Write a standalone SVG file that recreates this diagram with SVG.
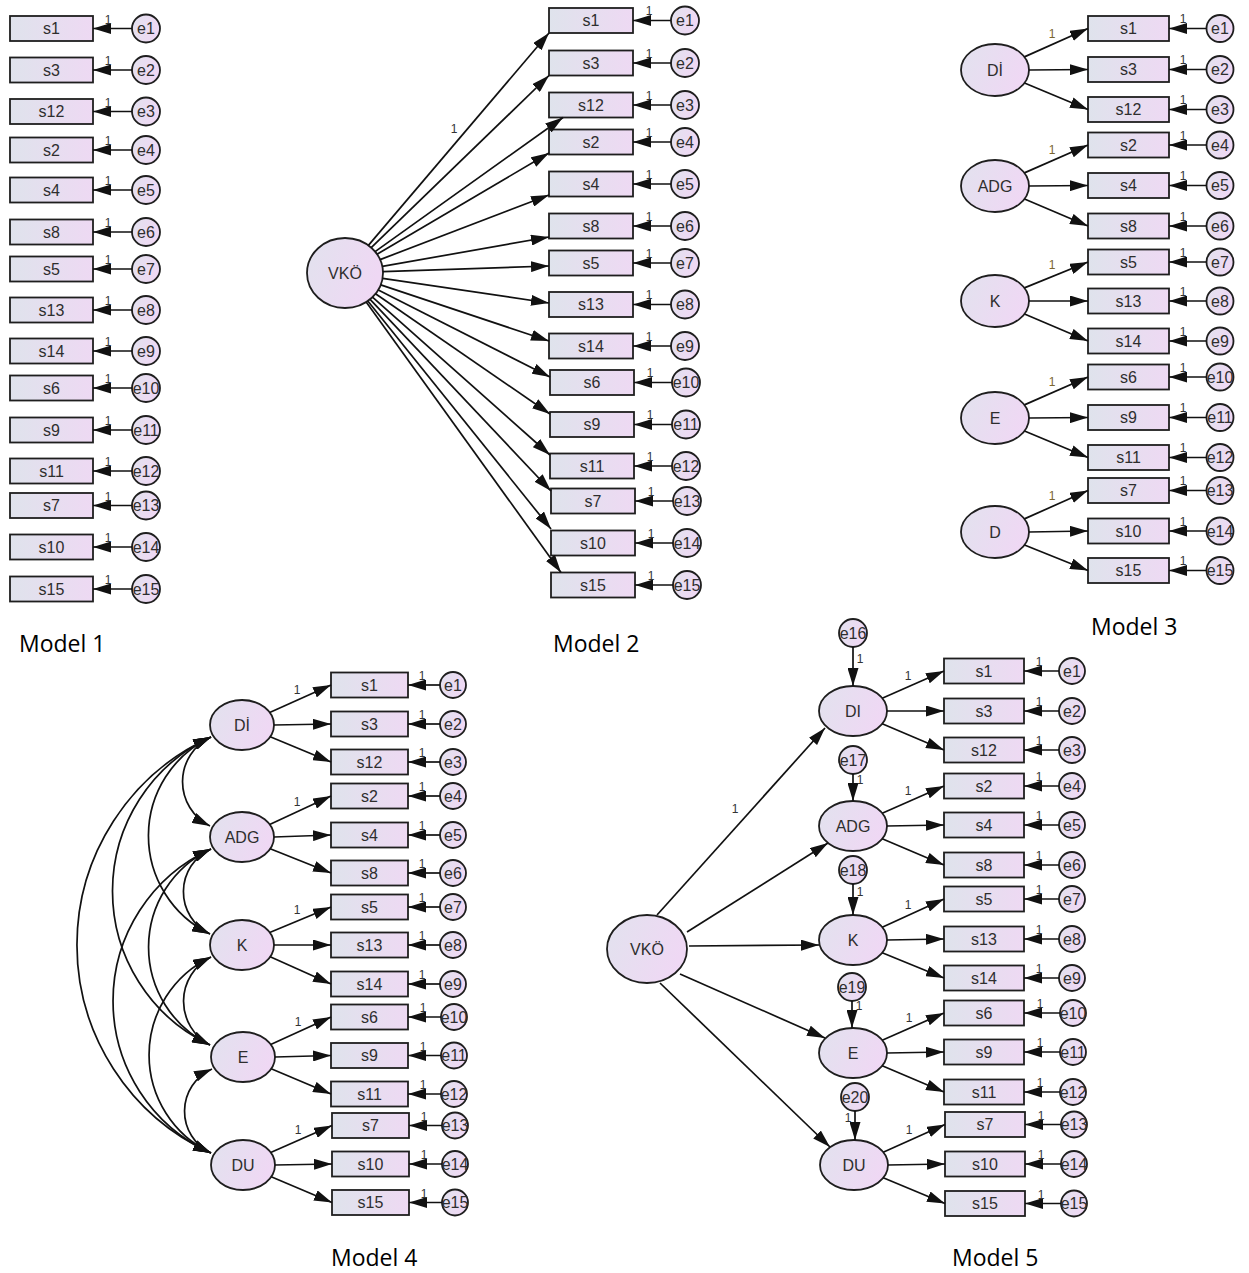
<svg xmlns="http://www.w3.org/2000/svg" width="1249" height="1273" viewBox="0 0 1249 1273">
<defs>
  <linearGradient id="gBox" x1="0" y1="0" x2="1" y2="0">
    <stop offset="0" stop-color="#dfe3ec"/>
    <stop offset="1" stop-color="#eed9f3"/>
  </linearGradient>
  <linearGradient id="gLat" x1="0" y1="0" x2="1" y2="0.3">
    <stop offset="0" stop-color="#e2e2ee"/>
    <stop offset="1" stop-color="#efd8f4"/>
  </linearGradient>
  <marker id="ah" viewBox="0 0 18 11" refX="18" refY="5.5" markerWidth="18" markerHeight="11" markerUnits="userSpaceOnUse" orient="auto-start-reverse">
    <path d="M0,0 L18,5.5 L0,11 z" fill="#111"/>
  </marker>
  <style>
    .box{fill:url(#gBox);stroke:#1e1e1e;stroke-width:1.8}
    .lat{fill:url(#gLat);stroke:#1e1e1e;stroke-width:1.8}
    .t{font-family:"Liberation Sans",Arial,sans-serif;font-size:16px;fill:#2e2e2e;text-anchor:middle}
    .one{font-family:"Liberation Sans",Arial,sans-serif;font-size:12px;fill:#333;text-anchor:middle}
    .one3{font-family:"Liberation Sans",Arial,sans-serif;font-size:12px;fill:#7a6530;text-anchor:middle}
    .cap{font-family:"Open Sans","Liberation Sans",sans-serif;font-size:23px;fill:#000}
    .edges line,.edges path{stroke:#111;stroke-width:1.7;fill:none;marker-end:url(#ah)}
    .edges .cov{marker-start:url(#ah)}
  </style>
</defs>
<rect width="1249" height="1273" fill="#fff"/>

<!-- ===== Model 1 : independent items ===== -->
<g id="model1">
  <g id="m1-s1" transform="translate(10,16)"><rect class="box" width="83" height="25"/><text class="t" x="41.5" y="18">s1</text></g>
  <g id="m1-s3" transform="translate(10,57.5)"><rect class="box" width="83" height="25"/><text class="t" x="41.5" y="18">s3</text></g>
  <g id="m1-s12" transform="translate(10,99)"><rect class="box" width="83" height="25"/><text class="t" x="41.5" y="18">s12</text></g>
  <g id="m1-s2" transform="translate(10,137.5)"><rect class="box" width="83" height="25"/><text class="t" x="41.5" y="18">s2</text></g>
  <g id="m1-s4" transform="translate(10,177.5)"><rect class="box" width="83" height="25"/><text class="t" x="41.5" y="18">s4</text></g>
  <g id="m1-s8" transform="translate(10,219.5)"><rect class="box" width="83" height="25"/><text class="t" x="41.5" y="18">s8</text></g>
  <g id="m1-s5" transform="translate(10,256.5)"><rect class="box" width="83" height="25"/><text class="t" x="41.5" y="18">s5</text></g>
  <g id="m1-s13" transform="translate(10,297.5)"><rect class="box" width="83" height="25"/><text class="t" x="41.5" y="18">s13</text></g>
  <g id="m1-s14" transform="translate(10,338.5)"><rect class="box" width="83" height="25"/><text class="t" x="41.5" y="18">s14</text></g>
  <g id="m1-s6" transform="translate(10,375.5)"><rect class="box" width="83" height="25"/><text class="t" x="41.5" y="18">s6</text></g>
  <g id="m1-s9" transform="translate(10,417.5)"><rect class="box" width="83" height="25"/><text class="t" x="41.5" y="18">s9</text></g>
  <g id="m1-s11" transform="translate(10,458.5)"><rect class="box" width="83" height="25"/><text class="t" x="41.5" y="18">s11</text></g>
  <g id="m1-s7" transform="translate(10,493)"><rect class="box" width="83" height="25"/><text class="t" x="41.5" y="18">s7</text></g>
  <g id="m1-s10" transform="translate(10,534.5)"><rect class="box" width="83" height="25"/><text class="t" x="41.5" y="18">s10</text></g>
  <g id="m1-s15" transform="translate(10,576.5)"><rect class="box" width="83" height="25"/><text class="t" x="41.5" y="18">s15</text></g>

  <g id="m1-e1" transform="translate(146,28.5)"><circle class="lat" r="14"/><text class="t" y="5.5">e1</text></g>
  <g id="m1-e2" transform="translate(146,70)"><circle class="lat" r="14"/><text class="t" y="5.5">e2</text></g>
  <g id="m1-e3" transform="translate(146,111.5)"><circle class="lat" r="14"/><text class="t" y="5.5">e3</text></g>
  <g id="m1-e4" transform="translate(146,150)"><circle class="lat" r="14"/><text class="t" y="5.5">e4</text></g>
  <g id="m1-e5" transform="translate(146,190)"><circle class="lat" r="14"/><text class="t" y="5.5">e5</text></g>
  <g id="m1-e6" transform="translate(146,232)"><circle class="lat" r="14"/><text class="t" y="5.5">e6</text></g>
  <g id="m1-e7" transform="translate(146,269)"><circle class="lat" r="14"/><text class="t" y="5.5">e7</text></g>
  <g id="m1-e8" transform="translate(146,310)"><circle class="lat" r="14"/><text class="t" y="5.5">e8</text></g>
  <g id="m1-e9" transform="translate(146,351)"><circle class="lat" r="14"/><text class="t" y="5.5">e9</text></g>
  <g id="m1-e10" transform="translate(146,388)"><circle class="lat" r="14"/><text class="t" y="5.5">e10</text></g>
  <g id="m1-e11" transform="translate(146,430)"><circle class="lat" r="14"/><text class="t" y="5.5">e11</text></g>
  <g id="m1-e12" transform="translate(146,471)"><circle class="lat" r="14"/><text class="t" y="5.5">e12</text></g>
  <g id="m1-e13" transform="translate(146,505.5)"><circle class="lat" r="14"/><text class="t" y="5.5">e13</text></g>
  <g id="m1-e14" transform="translate(146,547)"><circle class="lat" r="14"/><text class="t" y="5.5">e14</text></g>
  <g id="m1-e15" transform="translate(146,589)"><circle class="lat" r="14"/><text class="t" y="5.5">e15</text></g>
</g>
<g id="model1-edges" class="edges">
  <line x1="132" y1="28.5" x2="93" y2="28.5"/><line x1="132" y1="70" x2="93" y2="70"/>
  <line x1="132" y1="111.5" x2="93" y2="111.5"/><line x1="132" y1="150" x2="93" y2="150"/>
  <line x1="132" y1="190" x2="93" y2="190"/><line x1="132" y1="232" x2="93" y2="232"/>
  <line x1="132" y1="269" x2="93" y2="269"/><line x1="132" y1="310" x2="93" y2="310"/>
  <line x1="132" y1="351" x2="93" y2="351"/><line x1="132" y1="388" x2="93" y2="388"/>
  <line x1="132" y1="430" x2="93" y2="430"/><line x1="132" y1="471" x2="93" y2="471"/>
  <line x1="132" y1="505.5" x2="93" y2="505.5"/><line x1="132" y1="547" x2="93" y2="547"/>
  <line x1="132" y1="589" x2="93" y2="589"/>
  <text class="one" x="108" y="23.5">1</text><text class="one" x="108" y="65">1</text>
  <text class="one" x="108" y="106.5">1</text><text class="one" x="108" y="145">1</text>
  <text class="one" x="108" y="185">1</text><text class="one" x="108" y="227">1</text>
  <text class="one" x="108" y="264">1</text><text class="one" x="108" y="305">1</text>
  <text class="one" x="108" y="346">1</text><text class="one" x="108" y="383">1</text>
  <text class="one" x="108" y="425">1</text><text class="one" x="108" y="466">1</text>
  <text class="one" x="108" y="500.5">1</text><text class="one" x="108" y="542">1</text>
  <text class="one" x="108" y="584">1</text>
</g>
<text class="cap" x="19" y="652">Model 1</text>

<!-- ===== Model 2 : single factor ===== -->
<g id="model2">
  <g id="m2-VKO" transform="translate(345,273)"><ellipse class="lat" rx="38" ry="35"/><text class="t" y="6">VKÖ</text></g>
  <g id="m2-s1" transform="translate(549,8)"><rect class="box" width="84" height="25"/><text class="t" x="42" y="18">s1</text></g>
  <g id="m2-s3" transform="translate(549,50.5)"><rect class="box" width="84" height="25"/><text class="t" x="42" y="18">s3</text></g>
  <g id="m2-s12" transform="translate(549,92.5)"><rect class="box" width="84" height="25"/><text class="t" x="42" y="18">s12</text></g>
  <g id="m2-s2" transform="translate(549,129.5)"><rect class="box" width="84" height="25"/><text class="t" x="42" y="18">s2</text></g>
  <g id="m2-s4" transform="translate(549,171.5)"><rect class="box" width="84" height="25"/><text class="t" x="42" y="18">s4</text></g>
  <g id="m2-s8" transform="translate(549,213.5)"><rect class="box" width="84" height="25"/><text class="t" x="42" y="18">s8</text></g>
  <g id="m2-s5" transform="translate(549,250.5)"><rect class="box" width="84" height="25"/><text class="t" x="42" y="18">s5</text></g>
  <g id="m2-s13" transform="translate(549,292)"><rect class="box" width="84" height="25"/><text class="t" x="42" y="18">s13</text></g>
  <g id="m2-s14" transform="translate(549,333.5)"><rect class="box" width="84" height="25"/><text class="t" x="42" y="18">s14</text></g>
  <g id="m2-s6" transform="translate(550,370)"><rect class="box" width="84" height="25"/><text class="t" x="42" y="18">s6</text></g>
  <g id="m2-s9" transform="translate(550,412)"><rect class="box" width="84" height="25"/><text class="t" x="42" y="18">s9</text></g>
  <g id="m2-s11" transform="translate(550,453.5)"><rect class="box" width="84" height="25"/><text class="t" x="42" y="18">s11</text></g>
  <g id="m2-s7" transform="translate(551,488.5)"><rect class="box" width="84" height="25"/><text class="t" x="42" y="18">s7</text></g>
  <g id="m2-s10" transform="translate(551,530.5)"><rect class="box" width="84" height="25"/><text class="t" x="42" y="18">s10</text></g>
  <g id="m2-s15" transform="translate(551,572.5)"><rect class="box" width="84" height="25"/><text class="t" x="42" y="18">s15</text></g>

  <g id="m2-e1" transform="translate(685,20.5)"><circle class="lat" r="14"/><text class="t" y="5.5">e1</text></g>
  <g id="m2-e2" transform="translate(685,63)"><circle class="lat" r="14"/><text class="t" y="5.5">e2</text></g>
  <g id="m2-e3" transform="translate(685,105)"><circle class="lat" r="14"/><text class="t" y="5.5">e3</text></g>
  <g id="m2-e4" transform="translate(685,142)"><circle class="lat" r="14"/><text class="t" y="5.5">e4</text></g>
  <g id="m2-e5" transform="translate(685,184)"><circle class="lat" r="14"/><text class="t" y="5.5">e5</text></g>
  <g id="m2-e6" transform="translate(685,226)"><circle class="lat" r="14"/><text class="t" y="5.5">e6</text></g>
  <g id="m2-e7" transform="translate(685,263)"><circle class="lat" r="14"/><text class="t" y="5.5">e7</text></g>
  <g id="m2-e8" transform="translate(685,304.5)"><circle class="lat" r="14"/><text class="t" y="5.5">e8</text></g>
  <g id="m2-e9" transform="translate(685,346)"><circle class="lat" r="14"/><text class="t" y="5.5">e9</text></g>
  <g id="m2-e10" transform="translate(686,382.5)"><circle class="lat" r="14"/><text class="t" y="5.5">e10</text></g>
  <g id="m2-e11" transform="translate(686,424.5)"><circle class="lat" r="14"/><text class="t" y="5.5">e11</text></g>
  <g id="m2-e12" transform="translate(686,466)"><circle class="lat" r="14"/><text class="t" y="5.5">e12</text></g>
  <g id="m2-e13" transform="translate(687,501)"><circle class="lat" r="14"/><text class="t" y="5.5">e13</text></g>
  <g id="m2-e14" transform="translate(687,543)"><circle class="lat" r="14"/><text class="t" y="5.5">e14</text></g>
  <g id="m2-e15" transform="translate(687,585)"><circle class="lat" r="14"/><text class="t" y="5.5">e15</text></g>
</g>
<g id="model2-edges" class="edges">
  <line x1="368.4" y1="245.4" x2="549" y2="33"/>
  <line x1="371.2" y1="247.7" x2="549" y2="75.5"/>
  <line x1="375.1" y1="251.6" x2="563" y2="117.5"/>
  <line x1="377" y1="254.2" x2="549" y2="153"/>
  <line x1="380.1" y1="259.6" x2="549" y2="195"/>
  <line x1="382.3" y1="266.4" x2="549" y2="237"/>
  <line x1="383" y1="271.7" x2="549" y2="266"/>
  <line x1="382.6" y1="278.3" x2="549" y2="303"/>
  <line x1="380.7" y1="284.9" x2="549" y2="341"/>
  <line x1="378.3" y1="289.9" x2="550" y2="377"/>
  <line x1="375.5" y1="293.8" x2="550" y2="414"/>
  <line x1="372.5" y1="297.2" x2="550" y2="455"/>
  <line x1="370.1" y1="299.3" x2="551" y2="491"/>
  <line x1="367.8" y1="301" x2="551" y2="529"/>
  <line x1="366.2" y1="302" x2="561" y2="572.5"/>
  <text class="one" x="454" y="133">1</text>

  <line x1="671" y1="20.5" x2="633" y2="20.5"/><line x1="671" y1="63" x2="633" y2="63"/>
  <line x1="671" y1="105" x2="633" y2="105"/><line x1="671" y1="142" x2="633" y2="142"/>
  <line x1="671" y1="184" x2="633" y2="184"/><line x1="671" y1="226" x2="633" y2="226"/>
  <line x1="671" y1="263" x2="633" y2="263"/><line x1="671" y1="304.5" x2="633" y2="304.5"/>
  <line x1="671" y1="346" x2="633" y2="346"/><line x1="672" y1="382.5" x2="634" y2="382.5"/>
  <line x1="672" y1="424.5" x2="634" y2="424.5"/><line x1="672" y1="466" x2="634" y2="466"/>
  <line x1="673" y1="501" x2="635" y2="501"/><line x1="673" y1="543" x2="635" y2="543"/>
  <line x1="673" y1="585" x2="635" y2="585"/>
  <text class="one" x="649" y="15">1</text><text class="one" x="649" y="57.5">1</text>
  <text class="one" x="649" y="99.5">1</text><text class="one" x="649" y="136.5">1</text>
  <text class="one" x="649" y="178.5">1</text><text class="one" x="649" y="220.5">1</text>
  <text class="one" x="649" y="257.5">1</text><text class="one" x="649" y="299">1</text>
  <text class="one" x="649" y="340.5">1</text><text class="one" x="650" y="377">1</text>
  <text class="one" x="650" y="419">1</text><text class="one" x="650" y="460.5">1</text>
  <text class="one" x="651" y="495.5">1</text><text class="one" x="651" y="537.5">1</text>
  <text class="one" x="651" y="579.5">1</text>
</g>
<text class="cap" x="553" y="652">Model 2</text>

<!-- ===== Model 3 : five uncorrelated factors ===== -->
<g id="model3">
  <g id="m3-DI" transform="translate(995,70)"><ellipse class="lat" rx="34" ry="26"/><text class="t" y="6">Dİ</text></g>
  <g id="m3-ADG" transform="translate(995,186)"><ellipse class="lat" rx="34" ry="26"/><text class="t" y="6">ADG</text></g>
  <g id="m3-K" transform="translate(995,301)"><ellipse class="lat" rx="34" ry="26"/><text class="t" y="6">K</text></g>
  <g id="m3-E" transform="translate(995,418)"><ellipse class="lat" rx="34" ry="26"/><text class="t" y="6">E</text></g>
  <g id="m3-D" transform="translate(995,532)"><ellipse class="lat" rx="34" ry="26"/><text class="t" y="6">D</text></g>

  <g id="m3-s1" transform="translate(1088,16)"><rect class="box" width="81" height="25"/><text class="t" x="40.5" y="18">s1</text></g>
  <g id="m3-s3" transform="translate(1088,57)"><rect class="box" width="81" height="25"/><text class="t" x="40.5" y="18">s3</text></g>
  <g id="m3-s12" transform="translate(1088,97)"><rect class="box" width="81" height="25"/><text class="t" x="40.5" y="18">s12</text></g>
  <g id="m3-s2" transform="translate(1088,132.5)"><rect class="box" width="81" height="25"/><text class="t" x="40.5" y="18">s2</text></g>
  <g id="m3-s4" transform="translate(1088,173)"><rect class="box" width="81" height="25"/><text class="t" x="40.5" y="18">s4</text></g>
  <g id="m3-s8" transform="translate(1088,213.5)"><rect class="box" width="81" height="25"/><text class="t" x="40.5" y="18">s8</text></g>
  <g id="m3-s5" transform="translate(1088,249.5)"><rect class="box" width="81" height="25"/><text class="t" x="40.5" y="18">s5</text></g>
  <g id="m3-s13" transform="translate(1088,288.5)"><rect class="box" width="81" height="25"/><text class="t" x="40.5" y="18">s13</text></g>
  <g id="m3-s14" transform="translate(1088,328.5)"><rect class="box" width="81" height="25"/><text class="t" x="40.5" y="18">s14</text></g>
  <g id="m3-s6" transform="translate(1088,364.5)"><rect class="box" width="81" height="25"/><text class="t" x="40.5" y="18">s6</text></g>
  <g id="m3-s9" transform="translate(1088,405)"><rect class="box" width="81" height="25"/><text class="t" x="40.5" y="18">s9</text></g>
  <g id="m3-s11" transform="translate(1088,445)"><rect class="box" width="81" height="25"/><text class="t" x="40.5" y="18">s11</text></g>
  <g id="m3-s7" transform="translate(1088,478)"><rect class="box" width="81" height="25"/><text class="t" x="40.5" y="18">s7</text></g>
  <g id="m3-s10" transform="translate(1088,518.5)"><rect class="box" width="81" height="25"/><text class="t" x="40.5" y="18">s10</text></g>
  <g id="m3-s15" transform="translate(1088,558)"><rect class="box" width="81" height="25"/><text class="t" x="40.5" y="18">s15</text></g>

  <g id="m3-e1" transform="translate(1220,28.5)"><circle class="lat" r="13.5"/><text class="t" y="5.5">e1</text></g>
  <g id="m3-e2" transform="translate(1220,69.5)"><circle class="lat" r="13.5"/><text class="t" y="5.5">e2</text></g>
  <g id="m3-e3" transform="translate(1220,109.5)"><circle class="lat" r="13.5"/><text class="t" y="5.5">e3</text></g>
  <g id="m3-e4" transform="translate(1220,145)"><circle class="lat" r="13.5"/><text class="t" y="5.5">e4</text></g>
  <g id="m3-e5" transform="translate(1220,185.5)"><circle class="lat" r="13.5"/><text class="t" y="5.5">e5</text></g>
  <g id="m3-e6" transform="translate(1220,226)"><circle class="lat" r="13.5"/><text class="t" y="5.5">e6</text></g>
  <g id="m3-e7" transform="translate(1220,262)"><circle class="lat" r="13.5"/><text class="t" y="5.5">e7</text></g>
  <g id="m3-e8" transform="translate(1220,301)"><circle class="lat" r="13.5"/><text class="t" y="5.5">e8</text></g>
  <g id="m3-e9" transform="translate(1220,341)"><circle class="lat" r="13.5"/><text class="t" y="5.5">e9</text></g>
  <g id="m3-e10" transform="translate(1220,377)"><circle class="lat" r="13.5"/><text class="t" y="5.5">e10</text></g>
  <g id="m3-e11" transform="translate(1220,417.5)"><circle class="lat" r="13.5"/><text class="t" y="5.5">e11</text></g>
  <g id="m3-e12" transform="translate(1220,457.5)"><circle class="lat" r="13.5"/><text class="t" y="5.5">e12</text></g>
  <g id="m3-e13" transform="translate(1220,490.5)"><circle class="lat" r="13.5"/><text class="t" y="5.5">e13</text></g>
  <g id="m3-e14" transform="translate(1220,531)"><circle class="lat" r="13.5"/><text class="t" y="5.5">e14</text></g>
  <g id="m3-e15" transform="translate(1220,570.5)"><circle class="lat" r="13.5"/><text class="t" y="5.5">e15</text></g>
</g>
<g id="model3-edges" class="edges">
  <line x1="1024.4" y1="56.9" x2="1088" y2="28.5"/><line x1="1029" y1="70" x2="1088" y2="69.5"/><line x1="1024.5" y1="83" x2="1088" y2="109.5"/>
  <line x1="1024.4" y1="172.9" x2="1088" y2="145"/><line x1="1029" y1="186" x2="1088" y2="185.5"/><line x1="1024.5" y1="199" x2="1088" y2="226"/>
  <line x1="1024.4" y1="287.9" x2="1088" y2="262"/><line x1="1029" y1="301" x2="1088" y2="301"/><line x1="1024.5" y1="314" x2="1088" y2="341"/>
  <line x1="1024.4" y1="404.9" x2="1088" y2="377"/><line x1="1029" y1="418" x2="1088" y2="417.5"/><line x1="1024.5" y1="431" x2="1088" y2="457.5"/>
  <line x1="1024.4" y1="518.9" x2="1088" y2="490.5"/><line x1="1029" y1="532" x2="1088" y2="531"/><line x1="1024.5" y1="545" x2="1088" y2="570.5"/>
  <text class="one3" x="1052" y="38">1</text><text class="one3" x="1052" y="154">1</text>
  <text class="one3" x="1052" y="269">1</text><text class="one3" x="1052" y="386">1</text>
  <text class="one3" x="1052" y="500">1</text>

  <line x1="1206.5" y1="28.5" x2="1169" y2="28.5"/><line x1="1206.5" y1="69.5" x2="1169" y2="69.5"/>
  <line x1="1206.5" y1="109.5" x2="1169" y2="109.5"/><line x1="1206.5" y1="145" x2="1169" y2="145"/>
  <line x1="1206.5" y1="185.5" x2="1169" y2="185.5"/><line x1="1206.5" y1="226" x2="1169" y2="226"/>
  <line x1="1206.5" y1="262" x2="1169" y2="262"/><line x1="1206.5" y1="301" x2="1169" y2="301"/>
  <line x1="1206.5" y1="341" x2="1169" y2="341"/><line x1="1206.5" y1="377" x2="1169" y2="377"/>
  <line x1="1206.5" y1="417.5" x2="1169" y2="417.5"/><line x1="1206.5" y1="457.5" x2="1169" y2="457.5"/>
  <line x1="1206.5" y1="490.5" x2="1169" y2="490.5"/><line x1="1206.5" y1="531" x2="1169" y2="531"/>
  <line x1="1206.5" y1="570.5" x2="1169" y2="570.5"/>
  <text class="one" x="1183" y="23">1</text><text class="one" x="1183" y="64">1</text>
  <text class="one" x="1183" y="104">1</text><text class="one" x="1183" y="139.5">1</text>
  <text class="one" x="1183" y="180">1</text><text class="one" x="1183" y="220.5">1</text>
  <text class="one" x="1183" y="256.5">1</text><text class="one" x="1183" y="295.5">1</text>
  <text class="one" x="1183" y="335.5">1</text><text class="one" x="1183" y="371.5">1</text>
  <text class="one" x="1183" y="412">1</text><text class="one" x="1183" y="452">1</text>
  <text class="one" x="1183" y="485">1</text><text class="one" x="1183" y="525.5">1</text>
  <text class="one" x="1183" y="565">1</text>
</g>
<text class="cap" x="1091" y="635">Model 3</text>

<!-- ===== Model 4 : five correlated factors ===== -->
<g id="model4">
  <g id="m4-DI" transform="translate(242,725)"><ellipse class="lat" rx="32" ry="25"/><text class="t" y="6">Dİ</text></g>
  <g id="m4-ADG" transform="translate(242,837)"><ellipse class="lat" rx="32" ry="25"/><text class="t" y="6">ADG</text></g>
  <g id="m4-K" transform="translate(242,945)"><ellipse class="lat" rx="32" ry="25"/><text class="t" y="6">K</text></g>
  <g id="m4-E" transform="translate(243,1057)"><ellipse class="lat" rx="32" ry="25"/><text class="t" y="6">E</text></g>
  <g id="m4-DU" transform="translate(243,1165)"><ellipse class="lat" rx="32" ry="25"/><text class="t" y="6">DU</text></g>

  <g id="m4-s1" transform="translate(331,672.5)"><rect class="box" width="77" height="25"/><text class="t" x="38.5" y="18">s1</text></g>
  <g id="m4-s3" transform="translate(331,711.5)"><rect class="box" width="77" height="25"/><text class="t" x="38.5" y="18">s3</text></g>
  <g id="m4-s12" transform="translate(331,749.5)"><rect class="box" width="77" height="25"/><text class="t" x="38.5" y="18">s12</text></g>
  <g id="m4-s2" transform="translate(331,783.5)"><rect class="box" width="77" height="25"/><text class="t" x="38.5" y="18">s2</text></g>
  <g id="m4-s4" transform="translate(331,822.5)"><rect class="box" width="77" height="25"/><text class="t" x="38.5" y="18">s4</text></g>
  <g id="m4-s8" transform="translate(331,860.5)"><rect class="box" width="77" height="25"/><text class="t" x="38.5" y="18">s8</text></g>
  <g id="m4-s5" transform="translate(331,894.5)"><rect class="box" width="77" height="25"/><text class="t" x="38.5" y="18">s5</text></g>
  <g id="m4-s13" transform="translate(331,932.5)"><rect class="box" width="77" height="25"/><text class="t" x="38.5" y="18">s13</text></g>
  <g id="m4-s14" transform="translate(331,971.5)"><rect class="box" width="77" height="25"/><text class="t" x="38.5" y="18">s14</text></g>
  <g id="m4-s6" transform="translate(331,1004.5)"><rect class="box" width="77" height="25"/><text class="t" x="38.5" y="18">s6</text></g>
  <g id="m4-s9" transform="translate(331,1043)"><rect class="box" width="77" height="25"/><text class="t" x="38.5" y="18">s9</text></g>
  <g id="m4-s11" transform="translate(331,1081.5)"><rect class="box" width="77" height="25"/><text class="t" x="38.5" y="18">s11</text></g>
  <g id="m4-s7" transform="translate(332,1113)"><rect class="box" width="77" height="25"/><text class="t" x="38.5" y="18">s7</text></g>
  <g id="m4-s10" transform="translate(332,1151.5)"><rect class="box" width="77" height="25"/><text class="t" x="38.5" y="18">s10</text></g>
  <g id="m4-s15" transform="translate(332,1190)"><rect class="box" width="77" height="25"/><text class="t" x="38.5" y="18">s15</text></g>

  <g id="m4-e1" transform="translate(453,685)"><circle class="lat" r="13"/><text class="t" y="5.5">e1</text></g>
  <g id="m4-e2" transform="translate(453,724)"><circle class="lat" r="13"/><text class="t" y="5.5">e2</text></g>
  <g id="m4-e3" transform="translate(453,762)"><circle class="lat" r="13"/><text class="t" y="5.5">e3</text></g>
  <g id="m4-e4" transform="translate(453,796)"><circle class="lat" r="13"/><text class="t" y="5.5">e4</text></g>
  <g id="m4-e5" transform="translate(453,835)"><circle class="lat" r="13"/><text class="t" y="5.5">e5</text></g>
  <g id="m4-e6" transform="translate(453,873)"><circle class="lat" r="13"/><text class="t" y="5.5">e6</text></g>
  <g id="m4-e7" transform="translate(453,907)"><circle class="lat" r="13"/><text class="t" y="5.5">e7</text></g>
  <g id="m4-e8" transform="translate(453,945)"><circle class="lat" r="13"/><text class="t" y="5.5">e8</text></g>
  <g id="m4-e9" transform="translate(453,984)"><circle class="lat" r="13"/><text class="t" y="5.5">e9</text></g>
  <g id="m4-e10" transform="translate(454,1017)"><circle class="lat" r="13"/><text class="t" y="5.5">e10</text></g>
  <g id="m4-e11" transform="translate(454,1055.5)"><circle class="lat" r="13"/><text class="t" y="5.5">e11</text></g>
  <g id="m4-e12" transform="translate(454,1094)"><circle class="lat" r="13"/><text class="t" y="5.5">e12</text></g>
  <g id="m4-e13" transform="translate(455,1125.5)"><circle class="lat" r="13"/><text class="t" y="5.5">e13</text></g>
  <g id="m4-e14" transform="translate(455,1164)"><circle class="lat" r="13"/><text class="t" y="5.5">e14</text></g>
  <g id="m4-e15" transform="translate(455,1202.5)"><circle class="lat" r="13"/><text class="t" y="5.5">e15</text></g>
</g>
<g id="model4-edges" class="edges">
  <!-- loadings -->
  <line x1="269.7" y1="712.5" x2="331" y2="685"/><line x1="274" y1="725" x2="331" y2="724"/><line x1="270.2" y1="736.7" x2="331" y2="762"/>
  <line x1="269.7" y1="824.5" x2="331" y2="796"/><line x1="274" y1="837" x2="331" y2="835"/><line x1="270.2" y1="848.7" x2="331" y2="873"/>
  <line x1="269.7" y1="932.5" x2="331" y2="907"/><line x1="274" y1="945" x2="331" y2="945"/><line x1="270.2" y1="956.7" x2="331" y2="984"/>
  <line x1="270.7" y1="1044.5" x2="331" y2="1017"/><line x1="275" y1="1057" x2="331" y2="1055.5"/><line x1="271.2" y1="1068.7" x2="331" y2="1094"/>
  <line x1="270.7" y1="1152.5" x2="332" y2="1125.5"/><line x1="275" y1="1165" x2="332" y2="1164"/><line x1="271.2" y1="1176.7" x2="332" y2="1202.5"/>
  <text class="one" x="297" y="694">1</text><text class="one" x="297" y="806">1</text>
  <text class="one" x="297" y="914">1</text><text class="one" x="298" y="1026">1</text>
  <text class="one" x="298" y="1134">1</text>
  <!-- covariances -->
  <path class="cov" d="M211,737 A49.4,49.4 0 0 0 210,826"/>
  <path class="cov" d="M211,737 A109.2,109.2 0 0 0 210,934"/>
  <path class="cov" d="M211,737 A170,170 0 0 0 210,1045"/>
  <path class="cov" d="M211,737 A228.4,228.4 0 0 0 211,1153"/>
  <path class="cov" d="M211,849 A46.9,46.9 0 0 0 210,934"/>
  <path class="cov" d="M211,849 A108.5,108.5 0 0 0 210,1045"/>
  <path class="cov" d="M211,849 A166.9,166.9 0 0 0 211,1153"/>
  <path class="cov" d="M211,957 A49.4,49.4 0 0 0 210,1045"/>
  <path class="cov" d="M211,957 A108.5,108.5 0 0 0 211,1153"/>
  <path class="cov" d="M212,1069 A46.2,46.2 0 0 0 211,1153"/>
  <!-- residuals -->
  <line x1="440" y1="685" x2="408" y2="685"/><line x1="440" y1="724" x2="408" y2="724"/>
  <line x1="440" y1="762" x2="408" y2="762"/><line x1="440" y1="796" x2="408" y2="796"/>
  <line x1="440" y1="835" x2="408" y2="835"/><line x1="440" y1="873" x2="408" y2="873"/>
  <line x1="440" y1="907" x2="408" y2="907"/><line x1="440" y1="945" x2="408" y2="945"/>
  <line x1="440" y1="984" x2="408" y2="984"/><line x1="441" y1="1017" x2="408" y2="1017"/>
  <line x1="441" y1="1055.5" x2="408" y2="1055.5"/><line x1="441" y1="1094" x2="408" y2="1094"/>
  <line x1="442" y1="1125.5" x2="409" y2="1125.5"/><line x1="442" y1="1164" x2="409" y2="1164"/>
  <line x1="442" y1="1202.5" x2="409" y2="1202.5"/>
  <text class="one" x="422" y="680">1</text><text class="one" x="422" y="719">1</text>
  <text class="one" x="422" y="757">1</text><text class="one" x="422" y="791">1</text>
  <text class="one" x="422" y="830">1</text><text class="one" x="422" y="868">1</text>
  <text class="one" x="422" y="902">1</text><text class="one" x="422" y="940">1</text>
  <text class="one" x="422" y="979">1</text><text class="one" x="423" y="1012">1</text>
  <text class="one" x="423" y="1050.5">1</text><text class="one" x="423" y="1089">1</text>
  <text class="one" x="424" y="1120.5">1</text><text class="one" x="424" y="1159">1</text>
  <text class="one" x="424" y="1197.5">1</text>
</g>
<text class="cap" x="331" y="1266">Model 4</text>

<!-- ===== Model 5 : second-order factor ===== -->
<g id="model5">
  <g id="m5-VKO" transform="translate(647,949)"><ellipse class="lat" rx="40" ry="34"/><text class="t" y="6">VKÖ</text></g>
  <g id="m5-DI" transform="translate(853,711)"><ellipse class="lat" rx="34" ry="25"/><text class="t" y="6">DI</text></g>
  <g id="m5-ADG" transform="translate(853,826)"><ellipse class="lat" rx="34" ry="25"/><text class="t" y="6">ADG</text></g>
  <g id="m5-K" transform="translate(853,940)"><ellipse class="lat" rx="34" ry="25"/><text class="t" y="6">K</text></g>
  <g id="m5-E" transform="translate(853,1053)"><ellipse class="lat" rx="34" ry="25"/><text class="t" y="6">E</text></g>
  <g id="m5-DU" transform="translate(854,1165)"><ellipse class="lat" rx="34" ry="25"/><text class="t" y="6">DU</text></g>

  <g id="m5-e16" transform="translate(853,633)"><circle class="lat" r="14"/><text class="t" y="5.5">e16</text></g>
  <g id="m5-e17" transform="translate(853,760)"><circle class="lat" r="14"/><text class="t" y="5.5">e17</text></g>
  <g id="m5-e18" transform="translate(853,870)"><circle class="lat" r="14"/><text class="t" y="5.5">e18</text></g>
  <g id="m5-e19" transform="translate(852,987)"><circle class="lat" r="14"/><text class="t" y="5.5">e19</text></g>
  <g id="m5-e20" transform="translate(855,1097)"><circle class="lat" r="14"/><text class="t" y="5.5">e20</text></g>

  <g id="m5-s1" transform="translate(944,658.5)"><rect class="box" width="80" height="25"/><text class="t" x="40" y="18">s1</text></g>
  <g id="m5-s3" transform="translate(944,698.5)"><rect class="box" width="80" height="25"/><text class="t" x="40" y="18">s3</text></g>
  <g id="m5-s12" transform="translate(944,737.5)"><rect class="box" width="80" height="25"/><text class="t" x="40" y="18">s12</text></g>
  <g id="m5-s2" transform="translate(944,773.5)"><rect class="box" width="80" height="25"/><text class="t" x="40" y="18">s2</text></g>
  <g id="m5-s4" transform="translate(944,812.5)"><rect class="box" width="80" height="25"/><text class="t" x="40" y="18">s4</text></g>
  <g id="m5-s8" transform="translate(944,852.5)"><rect class="box" width="80" height="25"/><text class="t" x="40" y="18">s8</text></g>
  <g id="m5-s5" transform="translate(944,886.5)"><rect class="box" width="80" height="25"/><text class="t" x="40" y="18">s5</text></g>
  <g id="m5-s13" transform="translate(944,926.5)"><rect class="box" width="80" height="25"/><text class="t" x="40" y="18">s13</text></g>
  <g id="m5-s14" transform="translate(944,965.5)"><rect class="box" width="80" height="25"/><text class="t" x="40" y="18">s14</text></g>
  <g id="m5-s6" transform="translate(944,1000.5)"><rect class="box" width="80" height="25"/><text class="t" x="40" y="18">s6</text></g>
  <g id="m5-s9" transform="translate(944,1039.5)"><rect class="box" width="80" height="25"/><text class="t" x="40" y="18">s9</text></g>
  <g id="m5-s11" transform="translate(944,1079.5)"><rect class="box" width="80" height="25"/><text class="t" x="40" y="18">s11</text></g>
  <g id="m5-s7" transform="translate(945,1112)"><rect class="box" width="80" height="25"/><text class="t" x="40" y="18">s7</text></g>
  <g id="m5-s10" transform="translate(945,1151.5)"><rect class="box" width="80" height="25"/><text class="t" x="40" y="18">s10</text></g>
  <g id="m5-s15" transform="translate(945,1191)"><rect class="box" width="80" height="25"/><text class="t" x="40" y="18">s15</text></g>

  <g id="m5-e1" transform="translate(1072,671)"><circle class="lat" r="13"/><text class="t" y="5.5">e1</text></g>
  <g id="m5-e2" transform="translate(1072,711)"><circle class="lat" r="13"/><text class="t" y="5.5">e2</text></g>
  <g id="m5-e3" transform="translate(1072,750)"><circle class="lat" r="13"/><text class="t" y="5.5">e3</text></g>
  <g id="m5-e4" transform="translate(1072,786)"><circle class="lat" r="13"/><text class="t" y="5.5">e4</text></g>
  <g id="m5-e5" transform="translate(1072,825)"><circle class="lat" r="13"/><text class="t" y="5.5">e5</text></g>
  <g id="m5-e6" transform="translate(1072,865)"><circle class="lat" r="13"/><text class="t" y="5.5">e6</text></g>
  <g id="m5-e7" transform="translate(1072,899)"><circle class="lat" r="13"/><text class="t" y="5.5">e7</text></g>
  <g id="m5-e8" transform="translate(1072,939)"><circle class="lat" r="13"/><text class="t" y="5.5">e8</text></g>
  <g id="m5-e9" transform="translate(1072,978)"><circle class="lat" r="13"/><text class="t" y="5.5">e9</text></g>
  <g id="m5-e10" transform="translate(1073,1013)"><circle class="lat" r="13"/><text class="t" y="5.5">e10</text></g>
  <g id="m5-e11" transform="translate(1073,1052)"><circle class="lat" r="13"/><text class="t" y="5.5">e11</text></g>
  <g id="m5-e12" transform="translate(1073,1092)"><circle class="lat" r="13"/><text class="t" y="5.5">e12</text></g>
  <g id="m5-e13" transform="translate(1074,1124.5)"><circle class="lat" r="13"/><text class="t" y="5.5">e13</text></g>
  <g id="m5-e14" transform="translate(1074,1164)"><circle class="lat" r="13"/><text class="t" y="5.5">e14</text></g>
  <g id="m5-e15" transform="translate(1074,1203.5)"><circle class="lat" r="13"/><text class="t" y="5.5">e15</text></g>
</g>
<g id="model5-edges" class="edges">
  <!-- second-order paths -->
  <line x1="657" y1="915" x2="825" y2="728"/>
  <line x1="687" y1="932" x2="828" y2="843"/>
  <line x1="689" y1="946" x2="819" y2="945"/>
  <line x1="680" y1="974" x2="825" y2="1038"/>
  <line x1="660" y1="983" x2="830" y2="1147"/>
  <text class="one" x="735" y="813">1</text>
  <!-- disturbances -->
  <line x1="853" y1="647" x2="853" y2="686"/>
  <line x1="853" y1="774" x2="853" y2="801"/>
  <line x1="853" y1="884" x2="853" y2="915"/>
  <line x1="852" y1="1001" x2="852" y2="1028"/>
  <line x1="855" y1="1111" x2="855" y2="1140"/>
  <text class="one" x="860" y="663">1</text><text class="one" x="860" y="784">1</text>
  <text class="one" x="860" y="896">1</text><text class="one" x="859" y="1010">1</text>
  <text class="one" x="848" y="1122">1</text>
  <!-- loadings -->
  <line x1="882.2" y1="698.2" x2="944" y2="671"/><line x1="887" y1="711" x2="944" y2="711"/><line x1="882.2" y1="723.8" x2="944" y2="750"/>
  <line x1="882.2" y1="813.2" x2="944" y2="786"/><line x1="887" y1="826" x2="944" y2="825"/><line x1="882.2" y1="838.8" x2="944" y2="865"/>
  <line x1="882.2" y1="927.2" x2="944" y2="899"/><line x1="887" y1="940" x2="944" y2="939"/><line x1="882.2" y1="952.8" x2="944" y2="978"/>
  <line x1="882.2" y1="1040.2" x2="944" y2="1013"/><line x1="887" y1="1053" x2="944" y2="1052"/><line x1="882.2" y1="1065.8" x2="944" y2="1092"/>
  <line x1="883.2" y1="1152.2" x2="945" y2="1124.5"/><line x1="888" y1="1165" x2="945" y2="1164"/><line x1="883.2" y1="1177.8" x2="945" y2="1203.5"/>
  <text class="one" x="908" y="680">1</text><text class="one" x="908" y="795">1</text>
  <text class="one" x="908" y="909">1</text><text class="one" x="909" y="1022">1</text>
  <text class="one" x="909" y="1134">1</text>
  <!-- residuals -->
  <line x1="1059" y1="671" x2="1024" y2="671"/><line x1="1059" y1="711" x2="1024" y2="711"/>
  <line x1="1059" y1="750" x2="1024" y2="750"/><line x1="1059" y1="786" x2="1024" y2="786"/>
  <line x1="1059" y1="825" x2="1024" y2="825"/><line x1="1059" y1="865" x2="1024" y2="865"/>
  <line x1="1059" y1="899" x2="1024" y2="899"/><line x1="1059" y1="939" x2="1024" y2="939"/>
  <line x1="1059" y1="978" x2="1024" y2="978"/><line x1="1060" y1="1013" x2="1024" y2="1013"/>
  <line x1="1060" y1="1052" x2="1024" y2="1052"/><line x1="1060" y1="1092" x2="1024" y2="1092"/>
  <line x1="1061" y1="1124.5" x2="1025" y2="1124.5"/><line x1="1061" y1="1164" x2="1025" y2="1164"/>
  <line x1="1061" y1="1203.5" x2="1025" y2="1203.5"/>
  <text class="one" x="1039" y="666">1</text><text class="one" x="1039" y="706">1</text>
  <text class="one" x="1039" y="745">1</text><text class="one" x="1039" y="781">1</text>
  <text class="one" x="1039" y="820">1</text><text class="one" x="1039" y="860">1</text>
  <text class="one" x="1039" y="894">1</text><text class="one" x="1039" y="934">1</text>
  <text class="one" x="1039" y="973">1</text><text class="one" x="1040" y="1008">1</text>
  <text class="one" x="1040" y="1047">1</text><text class="one" x="1040" y="1087">1</text>
  <text class="one" x="1041" y="1119.5">1</text><text class="one" x="1041" y="1159">1</text>
  <text class="one" x="1041" y="1198.5">1</text>
</g>
<text class="cap" x="952" y="1266">Model 5</text>
</svg>
